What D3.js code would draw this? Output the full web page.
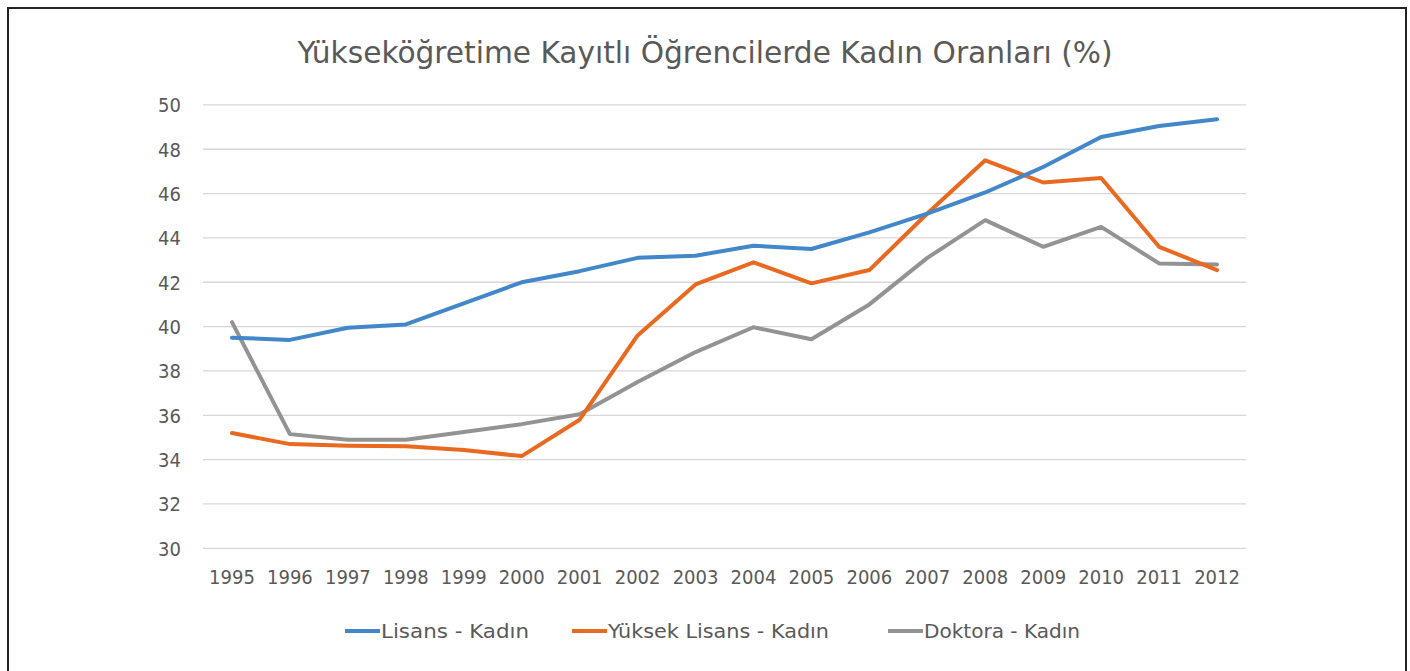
<!DOCTYPE html>
<html>
<head>
<meta charset="utf-8">
<script src="https://cdn.jsdelivr.net/npm/d3@7"></script>
<style>
  html, body { margin: 0; padding: 0; background: #fff; }
  svg { display: block; }
  text { font-family: "DejaVu Sans Condensed", "Liberation Sans Narrow", "Open Sans", sans-serif; fill: #595959; }
</style>
</head>
<body>
<script>
// data
const years = ["1995","1996","1997","1998","1999","2000","2001","2002","2003","2004","2005","2006","2007","2008","2009","2010","2011","2012"];
const lisans = [39.5,39.4,39.95,40.1,41.05,42.0,42.5,43.1,43.2,43.65,43.5,44.25,45.1,46.05,47.2,48.55,49.05,49.35];
const yuksekLisans = [35.2,34.7,34.63,34.6,34.43,34.16,35.8,39.6,41.9,42.9,41.95,42.55,45.1,47.5,46.5,46.7,43.6,42.55];
const doktora = [40.2,35.15,34.9,34.9,35.25,35.6,36.05,37.5,38.85,39.97,39.43,41.0,43.1,44.8,43.6,44.5,42.85,42.8];
const yTicks = [30,32,34,36,38,40,42,44,46,48,50];
const seriesNames = ["Lisans - Kadın", "Yüksek Lisans - Kadın", "Doktora - Kadın"];
const colors = ["#4187c9", "#e8691f", "#939393"];

const W = 1410, H = 671;
const svg = d3.select("body").append("svg").attr("width", W).attr("height", H);

// frame
svg.append("rect")
    .attr("x", 8).attr("y", 8)
    .attr("width", 1398).attr("height", H + 20)
    .attr("fill", "none")
    .attr("stroke", "#222")
    .attr("stroke-width", 2);

// title
svg.append("text")
    .attr("x", 705).attr("y", 63)
    .attr("text-anchor", "middle")
    .attr("textLength", 815)
    .attr("lengthAdjust", "spacingAndGlyphs")
    .style("font-size", "31px")
    .style("fill", "#595959")
    .text("Yükseköğretime Kayıtlı Öğrencilerde Kadın Oranları (%)");

// scales
let x = d3.scaleBand().domain(years).range([203, 1246]);
let y = d3.scaleLinear().domain([30, 50]).range([548.3, 104.9]);

// gridlines
svg.append("g").attr("class", "gridlines")
    .selectAll("line").data(yTicks).enter()
    .append("line")
    .attr("x1", 203).attr("x2", 1246)
    .attr("y1", d => y(d)).attr("y2", d => y(d))
    .style("stroke", "#d9d6d6")
    .style("stroke-width", 1.3);

// y axis
let axis_y = d3.axisLeft(y).tickValues(yTicks).tickSize(0).tickPadding(0);
let axis_y_draw = svg.append("g").attr("class", "scale_y")
    .attr("transform", "translate(181, 0)")
    .call(axis_y);
axis_y_draw.select(".domain").remove();
axis_y_draw.selectAll("text")
    .style("font-size", "20px")
    .style("font-family", "DejaVu Sans Condensed, sans-serif")
    .style("fill", "#595959")
    .attr("dy", "0.35em");

// x axis
let axis_x = d3.axisBottom(x).tickSize(0).tickPadding(0);
let axis_x_draw = svg.append("g").attr("class", "scale_x")
    .attr("transform", "translate(0, 570)")
    .call(axis_x);
axis_x_draw.select(".domain").remove();
axis_x_draw.selectAll("text")
    .style("font-size", "20px")
    .style("font-family", "DejaVu Sans Condensed, sans-serif")
    .style("fill", "#595959")
    .attr("dy", "0.71em");

// lines
const allSeries = [lisans, yuksekLisans, doktora];
let line = d3.line()
    .x((d, i) => x(years[i]) + x.bandwidth() / 2)
    .y(d => y(d));

// grey first, then orange, blue on top
[2, 1, 0].forEach(k => {
    svg.append("path")
        .datum(allSeries[k])
        .attr("d", line)
        .attr("fill", "none")
        .attr("stroke", colors[k])
        .attr("stroke-width", 4)
        .attr("stroke-linejoin", "round")
        .attr("stroke-linecap", "round");
});

// legend
const legendX = [345, 572, 888];
const legendW = [184, 257, 192];
let legend = svg.append("g").attr("class", "legend")
    .selectAll("g").data(seriesNames).enter()
    .append("g")
    .attr("transform", (d, i) => `translate(${legendX[i]}, 631)`);
legend.append("line")
    .attr("x1", 0).attr("x2", 35)
    .attr("y1", 0).attr("y2", 0)
    .attr("stroke", (d, i) => colors[i])
    .attr("stroke-width", 4);
legend.append("text")
    .attr("x", 36).attr("y", 0)
    .attr("dy", "0.35em")
    .attr("textLength", (d, i) => legendW[i] - 36)
    .attr("lengthAdjust", "spacingAndGlyphs")
    .style("font-size", "19px")
    .style("fill", "#595959")
    .text(d => d);
</script>
</body>
</html>
